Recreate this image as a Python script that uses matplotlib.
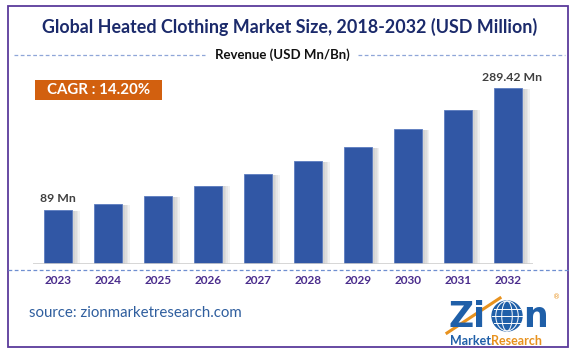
import matplotlib
matplotlib.use("Agg")
import matplotlib.pyplot as plt
from matplotlib.patches import Rectangle, Ellipse
from matplotlib.lines import Line2D

years = ["2023", "2024", "2025", "2026", "2027", "2028", "2029", "2030", "2031", "2032"]
revenue = [89, 99, 112, 129, 148, 170, 193, 222, 254, 289.42]
first_label = "89 Mn"
last_label = "289.42 Mn"
title = "Global Heated Clothing Market Size, 2018-2032 (USD Million)"
legend_text = "Revenue (USD Mn/Bn)"
cagr_text = "CAGR : 14.20%"
source_text = "source: zionmarketresearch.com"

W, H = 575, 353
fig = plt.figure(figsize=(W / 100, H / 100), dpi=100)
fig.patch.set_facecolor("white")

def fx(px):
    return px / W

def fy(py):
    return 1 - py / H

FONT = "Lato"
BAR = "#3157A5"
PURPLE = "#4A2C8C"
LOGO_BLUE = "#1F5FA8"
LOGO_ORANGE = "#E8921E"

# outer border
fig.add_artist(Rectangle((fx(8), fy(347)), fx(560), (347 - 6) / H, transform=fig.transFigure,
                         fill=False, edgecolor="#5B3A9B", linewidth=1.3))

# title
fig.text(fx(290), fy(27), title, ha="center", va="center", fontsize=12.9,
         fontweight="bold", color="#1B2A6B", family=FONT)

# legend dashed line with label
fig.add_artist(Line2D([fx(14), fx(205)], [fy(55), fy(55)], transform=fig.transFigure,
                      color="#8FA6D8", linewidth=0.9, linestyle=(0, (3, 2))))
fig.add_artist(Line2D([fx(358), fx(565)], [fy(55), fy(55)], transform=fig.transFigure,
                      color="#8FA6D8", linewidth=0.9, linestyle=(0, (3, 2))))
fig.text(fx(282), fy(55), legend_text, ha="center", va="center", fontsize=9.5,
         fontweight="bold", color="#111111", family=FONT)

# CAGR box
fig.add_artist(Rectangle((fx(35), fy(100)), fx(127), 20 / H, transform=fig.transFigure,
                         facecolor="#D2600F", edgecolor="none"))
fig.text(fx(99), fy(90), cagr_text, ha="center", va="center", fontsize=10.8,
         fontweight="bold", color="white", family=FONT)

# bar axes
top_px, base_px = 60, 264
scale = 289.42 / 176.0
ax = fig.add_axes([fx(33), fy(base_px), fx(500), (base_px - top_px) / H])
ax.set_xlim(-0.5, 9.5)
ax.set_ylim(0, (base_px - top_px) * scale)
x = list(range(len(years)))
# shadows
for i in range(4):
    ax.bar([xi + 0.06 + i * 0.03 for xi in x], [v - 1.5 for v in revenue], width=0.56,
           color="#9a9a9a", alpha=0.12, zorder=1, linewidth=0)
ax.bar(x, revenue, width=0.56, color=BAR, edgecolor="#5C7CC0", linewidth=0.6, zorder=3)
ax.axhline(0, color="#CFCFCF", linewidth=1.2, zorder=4)
ax.axis("off")

ax.text(-0.36, revenue[0] + 18, first_label, ha="left", va="center", fontsize=8.8,
        fontweight="bold", color="#404040", family=FONT)
ax.text(9.07, revenue[-1] + 17, last_label, ha="center", va="center", fontsize=8.8,
        fontweight="bold", color="#404040", family=FONT)

# bottom dashed line
fig.add_artist(Line2D([fx(8), fx(568)], [fy(269.5), fy(269.5)], transform=fig.transFigure,
                      color="#6F8FD0", linewidth=0.9, linestyle=(0, (3, 2))))

# year labels
for xi, yr in zip(x, years):
    px = 58 + xi * 50
    fig.text(fx(px), fy(280), yr, ha="center", va="center", fontsize=8.5,
             fontweight="bold", color=PURPLE, family=FONT)

# source
fig.text(fx(29), fy(313), source_text, ha="left", va="center", fontsize=10.8,
         color="#2F5E9E", family=FONT)

# logo (text + shapes)
fig.text(fx(449), fy(317), "Zi", ha="left", va="center", fontsize=25,
         fontweight="bold", color=LOGO_BLUE, family="DejaVu Sans")
fig.text(fx(523), fy(317), "n", ha="left", va="center", fontsize=25,
         fontweight="bold", color=LOGO_BLUE, family="DejaVu Sans")
gcx, gcy, gr = 507, 316, 15
fig.add_artist(Ellipse((fx(gcx), fy(gcy)), 2 * gr / W, 2 * gr / H, transform=fig.transFigure,
                       facecolor=LOGO_BLUE, edgecolor=LOGO_BLUE))
for wfrac in (0.35, 0.75):
    fig.add_artist(Ellipse((fx(gcx), fy(gcy)), 2 * gr * wfrac / W, 2 * gr / H,
                           transform=fig.transFigure, fill=False, edgecolor="white", linewidth=0.7))
for dy in (-7, 0, 7):
    half = (gr ** 2 - dy ** 2) ** 0.5
    fig.add_artist(Line2D([fx(gcx - half), fx(gcx + half)], [fy(gcy + dy), fy(gcy + dy)],
                          transform=fig.transFigure, color="white", linewidth=0.7))
fig.add_artist(Line2D([fx(447), fx(500)], [fy(333), fy(298)], transform=fig.transFigure,
                      color=LOGO_ORANGE, linewidth=2.2))
fig.text(fx(557), fy(297), "®", ha="center", va="center", fontsize=5, color=LOGO_ORANGE)
fig.text(fx(450), fy(341), "Market.", ha="left", va="center", fontsize=9,
         fontweight="bold", color=LOGO_BLUE, family=FONT)
fig.text(fx(491), fy(341), "Research", ha="left", va="center", fontsize=9,
         fontweight="bold", color=LOGO_ORANGE, family=FONT)

fig.savefig("out.png", dpi=100, facecolor="white")
